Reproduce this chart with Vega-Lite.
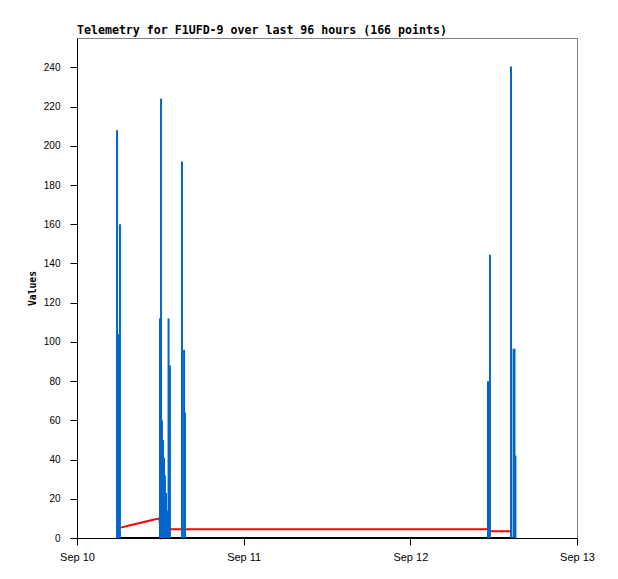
{
  "$schema": "https://vega.github.io/schema/vega-lite/v6.json",
  "width": 500,
  "height": 500,
  "autosize": "none",
  "padding": {"left": 77, "top": 38, "right": 41, "bottom": 41},
  "background": "white",
  "config": {
    "view": {"stroke": "#808080", "strokeWidth": 1},
    "axis": {
      "domainColor": "black",
      "tickColor": "black",
      "labelColor": "black",
      "titleColor": "black",
      "labelFont": "Liberation Sans",
      "labelFontSize": 10,
      "grid": false,
      "tickSize": 7,
      "labelOverlap": false,
      "labelBound": false,
      "labelFlush": false
    }
  },
  "title": {
    "text": "Telemetry for F1UFD-9 over last 96 hours (166 points)",
    "anchor": "start",
    "frame": "group",
    "font": "DejaVu Sans Mono",
    "fontSize": 11.6,
    "fontWeight": "bold",
    "color": "black",
    "baseline": "alphabetic",
    "offset": 5,
    "dy": 13
  },
  "datasets": {
    "bars": [
      {"t": "2024-09-10T05:46:00Z", "v": 208},
      {"t": "2024-09-10T05:59:00Z", "v": 104},
      {"t": "2024-09-10T06:11:00Z", "v": 160},
      {"t": "2024-09-10T11:57:00Z", "v": 112},
      {"t": "2024-09-10T12:06:00Z", "v": 224},
      {"t": "2024-09-10T12:14:00Z", "v": 60},
      {"t": "2024-09-10T12:23:00Z", "v": 50},
      {"t": "2024-09-10T12:32:00Z", "v": 41},
      {"t": "2024-09-10T12:40:00Z", "v": 32},
      {"t": "2024-09-10T12:49:00Z", "v": 23},
      {"t": "2024-09-10T12:58:00Z", "v": 14},
      {"t": "2024-09-10T13:11:00Z", "v": 112},
      {"t": "2024-09-10T13:23:00Z", "v": 88},
      {"t": "2024-09-10T15:07:00Z", "v": 192},
      {"t": "2024-09-10T15:25:00Z", "v": 96},
      {"t": "2024-09-10T15:33:00Z", "v": 64},
      {"t": "2024-09-12T11:11:00Z", "v": 80},
      {"t": "2024-09-12T11:28:00Z", "v": 144.5},
      {"t": "2024-09-12T14:30:00Z", "v": 240.5},
      {"t": "2024-09-12T14:52:00Z", "v": 96.5},
      {"t": "2024-09-12T15:00:00Z", "v": 96.5},
      {"t": "2024-09-12T15:08:00Z", "v": 42}
    ],
    "red": [
      {"t": "2024-09-10T06:20:00Z", "v": 5.3},
      {"t": "2024-09-10T07:38:00Z", "v": 6.5},
      {"t": "2024-09-10T09:04:00Z", "v": 7.7},
      {"t": "2024-09-10T10:31:00Z", "v": 8.9},
      {"t": "2024-09-10T11:52:00Z", "v": 10},
      {"t": "2024-09-10T12:06:00Z", "v": 0.5},
      {"t": "2024-09-10T12:32:00Z", "v": 3},
      {"t": "2024-09-10T12:49:00Z", "v": 4.5},
      {"t": "2024-09-12T11:11:00Z", "v": 4.5},
      {"t": "2024-09-12T11:28:00Z", "v": 3.5},
      {"t": "2024-09-12T14:22:00Z", "v": 3.5}
    ],
    "black": [
      {"t": "2024-09-10T05:37:00Z", "v": 0},
      {"t": "2024-09-10T06:11:00Z", "v": 0},
      {"t": "2024-09-10T15:33:00Z", "v": 0},
      {"t": "2024-09-12T11:11:00Z", "v": 0},
      {"t": "2024-09-12T15:13:00Z", "v": 0}
    ]
  },
  "encoding": {
    "x": {
      "field": "t",
      "type": "temporal",
      "scale": {"type": "utc", "domain": [
        {"year": 2024, "month": 9, "date": 10, "utc": true},
        {"year": 2024, "month": 9, "date": 13, "utc": true}
      ]},
      "axis": {
        "title": null,
        "labelExpr": "utcFormat(datum.value, '%b %d')",
        "values": [
          {"year": 2024, "month": 9, "date": 10, "utc": true},
          {"year": 2024, "month": 9, "date": 11, "utc": true},
          {"year": 2024, "month": 9, "date": 12, "utc": true},
          {"year": 2024, "month": 9, "date": 13, "utc": true}
        ],
        "labelFontSize": 11,
        "labelPadding": 6
      }
    },
    "y": {
      "field": "v",
      "type": "quantitative",
      "scale": {"domain": [0, 255], "nice": false},
      "axis": {
        "title": "Values",
        "titleFont": "DejaVu Sans Mono",
        "titleFontSize": 9.7,
        "titleFontWeight": "bold",
        "titlePadding": 6,
        "values": [0, 20, 40, 60, 80, 100, 120, 140, 160, 180, 200, 220, 240],
        "labelPadding": 10
      }
    }
  },
  "layer": [
    {
      "data": {"name": "red"},
      "mark": {"type": "line", "color": "#FF0000", "strokeWidth": 2, "interpolate": "linear"},
      "encoding": {}
    },
    {
      "data": {"name": "black"},
      "mark": {"type": "line", "color": "black", "strokeWidth": 2},
      "encoding": {}
    },
    {
      "data": {"name": "bars"},
      "mark": {"type": "rule", "color": "#0066CC", "strokeWidth": 2},
      "encoding": {"y2": {"datum": 0}}
    }
  ]
}
